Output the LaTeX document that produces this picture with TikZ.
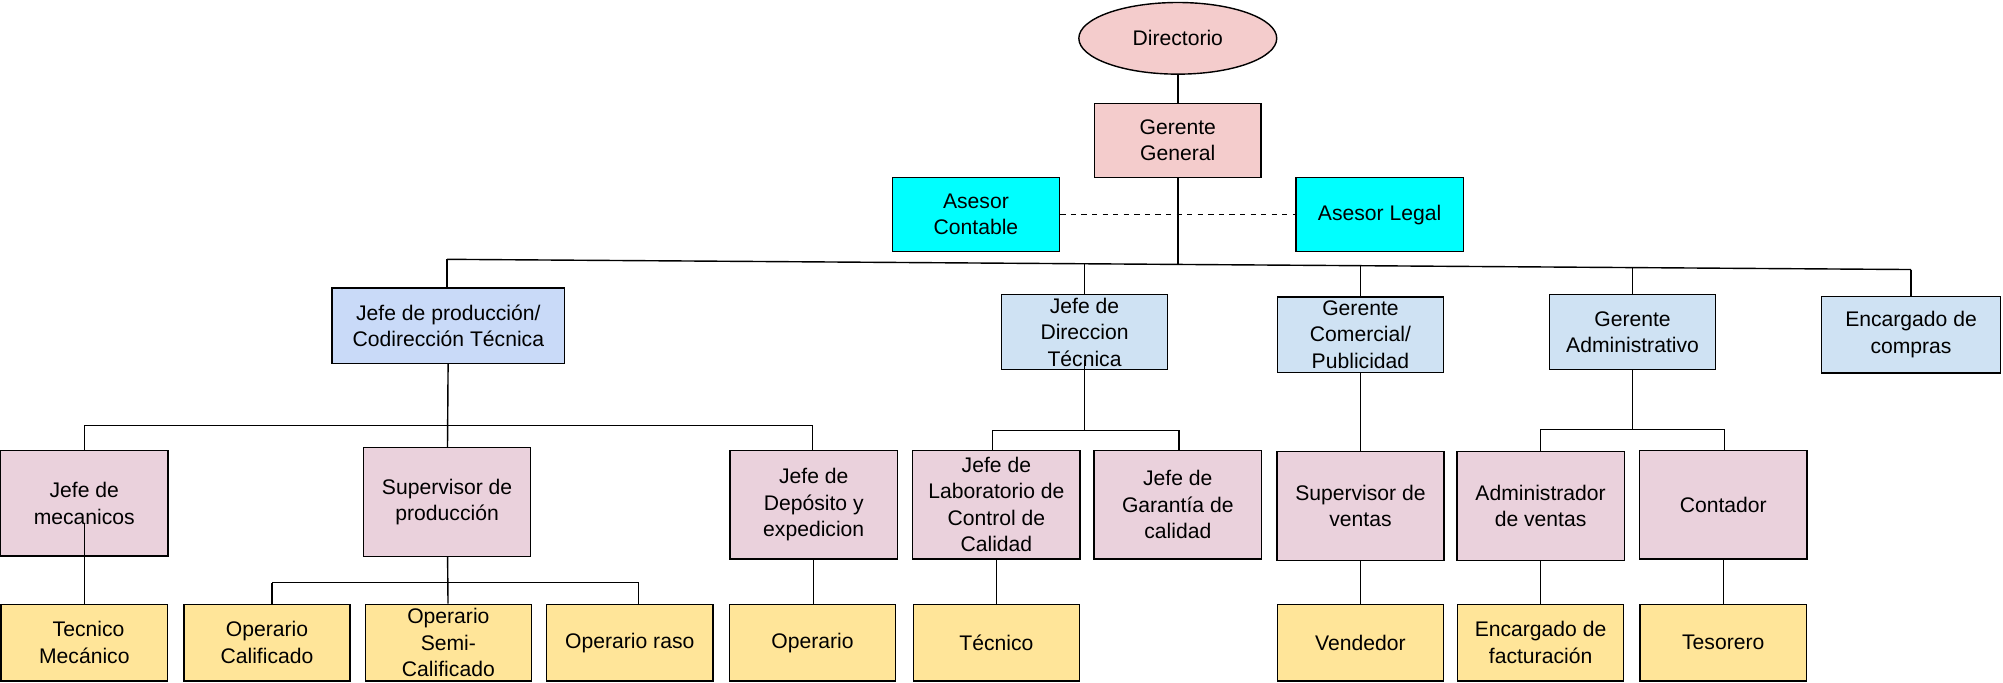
\documentclass[tikz,border=0pt]{standalone}
\usepackage{fontspec}
\setmainfont{Liberation Sans}
\usepackage{xcolor}
\usetikzlibrary{calc,shapes.geometric}
\definecolor{rosa}{HTML}{F4CCCC}
\definecolor{cian}{HTML}{00FFFF}
\definecolor{celeste}{HTML}{CFE2F3}
\definecolor{lavanda}{HTML}{C9DAF8}
\definecolor{malva}{HTML}{EAD1DC}
\definecolor{crema}{HTML}{FFE599}

\begin{document}
\begin{tikzpicture}[x=0.0255cm,y=-0.0255cm,
  puesto/.style={draw, line width=0.8pt, align=center, inner sep=1pt,
    font=\fontsize{12}{15}\selectfont},
  jefe/.style={puesto, fill=celeste, minimum width=3.32cm, minimum height=1.5cm},
  mando/.style={puesto, fill=malva, minimum width=3.34cm, minimum height=2.17cm},
  base/.style={puesto, fill=crema, minimum width=3.32cm, minimum height=1.53cm},
  linea/.style={line width=0.8pt}]
  \useasboundingbox (0,0) rectangle (1568,534);

  % cabeza
  \node[puesto, ellipse, fill=rosa, minimum width=3.95cm, minimum height=1.43cm] (dir) at (922,30) {Directorio};
  \node[puesto, fill=rosa, minimum width=3.32cm, minimum height=1.48cm] (gg) at (922,110) {Gerente\\General};
  \node[puesto, fill=cian, minimum width=3.34cm, minimum height=1.48cm] (ac) at (764,168) {Asesor\\Contable};
  \node[puesto, fill=cian, minimum width=3.34cm, minimum height=1.48cm] (al) at (1080,168) {Asesor Legal};

  % segundo nivel
  \node[jefe, fill=lavanda, minimum width=4.64cm] (jp) at (351,255) {Jefe de producción/\\Codirección Técnica};
  \node[jefe] (jdt) at (849,260) {Jefe de\\Direccion\\Técnica};
  \node[jefe] (gc) at (1065,262) {Gerente\\Comercial/\\Publicidad};
  \node[jefe] (ga) at (1278,260) {Gerente\\Administrativo};
  \node[jefe, minimum width=3.57cm, minimum height=1.53cm] (ec) at (1496,262) {Encargado de\\compras};

  % tercer nivel
  \node[mando, minimum height=2.1cm] (mec) at (66,394) {Jefe de\\mecanicos};
  \node[mando] (sp) at (350,393) {Supervisor de\\producción};
  \node[mando] (jd) at (637,395) {Jefe de\\Depósito y\\expedicion};
  \node[mando] (jl) at (780,395) {Jefe de\\Laboratorio de\\Control de\\Calidad};
  \node[mando] (jg) at (922,395) {Jefe de\\Garantía de\\calidad};
  \node[mando] (sv) at (1065,396) {Supervisor de\\ventas};
  \node[mando] (av) at (1206,396) {Administrador\\de ventas};
  \node[mando] (co) at (1349,395) {Contador};

  % cuarto nivel
  \node[base] (tm) at (66,503) {\hspace*{0.4em}Tecnico\\Mecánico};
  \node[base] (oc) at (209,503) {Operario\\Calificado};
  \node[base] (os) at (351,503) {Operario\\Semi-\\Calificado};
  \node[base] (or) at (493,503) {Operario raso};
  \node[base] (op) at (636,503) {Operario};
  \node[base] (tec) at (780,503) {Técnico};
  \node[base] (ve) at (1065,503) {Vendedor};
  \node[base] (ef) at (1206,503) {Encargado de\\facturación};
  \node[base] (te) at (1349,503) {Tesorero};

  % barras
  \coordinate (b1) at (350,203);
  \coordinate (b2) at (849,206.5);
  \coordinate (bg) at (922,207);
  \coordinate (b3) at (1065,208);
  \coordinate (b4) at (1278,209.5);
  \coordinate (b5) at (1496,211);
  \coordinate (p1) at (66,333);
  \coordinate (p3) at (636,333);
  \coordinate (s1) at (213,456);
  \coordinate (s3) at (500,456);
  \coordinate (t1) at (777,337);
  \coordinate (t2) at (923,337);
  \coordinate (a1) at (1206,336);
  \coordinate (a2) at (1350,336);

  \draw[dashed, line width=0.5pt] (ac) -- (al);
  \draw[linea] (dir) -- (gg);
  \draw[linea] (gg) -- (bg);
  \draw[linea] (b1) -- (b5);
  \foreach \b/\n in {b1/jp, b2/jdt, b3/gc, b4/ga, b5/ec}
    \draw[linea] (\b) -- (\b |- \n.north);

  \draw[linea] (jp) -- (sp);
  \draw[linea] (p1) -- (p3);
  \draw[linea] (p1) -- (p1 |- mec.north);
  \draw[linea] (p3) -- (p3 |- jd.north);

  \draw[linea] (sp) -- (os);
  \draw[linea] (s1) -- (s3);
  \draw[linea] (s1) -- (s1 |- oc.north);
  \draw[linea] (s3) -- (s3 |- or.north);

  \draw[linea] ($(jdt.south)+(0,-8)$) -- (jdt |- t1);
  \draw[linea] (t1) -- (t2);
  \draw[linea] (t1) -- (t1 |- jl.north);
  \draw[linea] (t2) -- (t2 |- jg.north);

  \draw[linea] (ga) -- (ga |- a1);
  \draw[linea] (a1) -- (a2);
  \draw[linea] (a1) -- (a1 |- av.north);
  \draw[linea] (a2) -- (a2 |- co.north);

  \draw[linea] (gc) -- (sv);
  \draw[linea] ($(mec.center)+(0,16)$) -- (tm);
  \draw[linea] (jd) -- (jd |- op.north);
  \draw[linea] (jl) -- (tec);
  \draw[linea] (sv) -- (ve);
  \draw[linea] (av) -- (ef);
  \draw[linea] (co) -- (te);
\end{tikzpicture}
\end{document}
